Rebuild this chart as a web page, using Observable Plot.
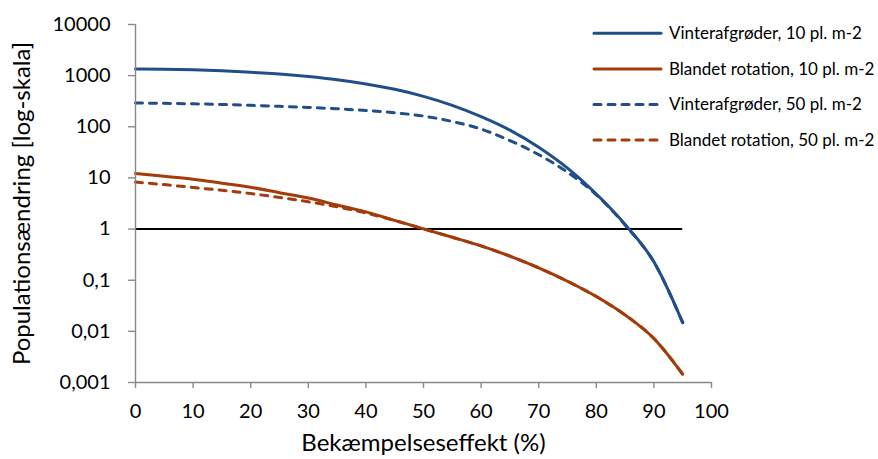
<!DOCTYPE html>
<html>
<head>
<meta charset="utf-8">
<script src="https://cdn.jsdelivr.net/npm/d3@7"></script>
<script src="https://cdn.jsdelivr.net/npm/@observablehq/plot@0.6"></script>
<style>
  body { margin: 0; background: #fff; }
  #chart { position: relative; width: 878px; height: 459px; font-family: Lato, sans-serif; }
  #chart svg.plot { position: absolute; left: 0; top: 0; }
  #legend { position: absolute; left: 0; top: 0; pointer-events: none; }
</style>
</head>
<body>
<div id="chart"></div>
<script>
// Control effect (%) on the x axis
const effect = [0, 5, 10, 15, 20, 25, 30, 35, 40, 45, 50, 55, 60, 65, 70, 75, 80, 85, 90, 95];

// Population change (log scale) for each scenario
const vinter10  = [1352, 1337, 1303, 1245, 1167, 1072, 959, 832, 689, 540, 394, 263, 158, 86.1, 39.8, 15.5, 4.84, 1.23, 0.229, 0.0148];
const blandet10 = [12.2, 10.74, 9.46, 7.87, 6.55, 5.14, 4.04, 2.96, 2.17, 1.48, 1.01, 0.692, 0.468, 0.295, 0.174, 0.0955, 0.0479, 0.0209, 0.00724, 0.00145];
const vinter50  = [292, 287, 281, 273, 263, 251, 239, 225, 208, 188, 162, 127, 90.2, 53.7, 28.5, 12.9, 4.68, 1.2, 0.226, 0.0148];
const blandet50 = [8.3, 7.4, 6.5, 5.74, 4.94, 4.16, 3.42, 2.72, 2.06, 1.47, 1.01, 0.692, 0.468, 0.295, 0.174, 0.0955, 0.0479, 0.0209, 0.00724, 0.00145];

const seriesNames = [
  "Vinterafgrøder, 10 pl. m-2",
  "Blandet rotation, 10 pl. m-2",
  "Vinterafgrøder, 50 pl. m-2",
  "Blandet rotation, 50 pl. m-2"
];
const seriesValues = [vinter10, blandet10, vinter50, blandet50];

// Break-even level (population unchanged)
const breakEven = 1;

// Axis ticks
const xTicks = [0, 10, 20, 30, 40, 50, 60, 70, 80, 90, 100];
const yTicks = [0.001, 0.01, 0.1, 1, 10, 100, 1000, 10000];
const yTickLabels = ["0,001", "0,01", "0,1", "1", "10", "100", "1000", "10000"];

const xLabel = "Bekæmpelseseffekt (%)";
const yLabel = "Populationsændring [log-skala]";

// Styling per series
const BLUE = "#1F4E89";
const BROWN = "#A33B0B";
const DASH = "7,7";
const styles = [
  { stroke: BLUE, dash: null },
  { stroke: BROWN, dash: null },
  { stroke: BLUE, dash: DASH },
  { stroke: BROWN, dash: DASH }
];
const AXIS_GREY = "#898989";

const rows = seriesNames.flatMap((name, i) =>
  effect.map((x, j) => ({ series: name, idx: i, x, y: seriesValues[i][j] }))
);

const lineMarks = seriesNames.map((name, i) =>
  Plot.line(rows.filter(d => d.idx === i), {
    x: "x", y: "y",
    stroke: styles[i].stroke,
    strokeWidth: 3,
    strokeDasharray: styles[i].dash,
    strokeLinecap: "round",
    curve: "monotone-x"
  })
);

const chart = Plot.plot({
  width: 878,
  height: 459,
  marginLeft: 135,
  marginRight: 167,
  marginTop: 24,
  marginBottom: 77,
  style: { fontFamily: "Lato, sans-serif", fontSize: "20px", color: "#000", background: "#fff" },
  x: { domain: [0, 100] },
  y: { type: "log", domain: [0.001, 10000] },
  marks: [
    Plot.ruleY([breakEven], { x1: effect[0], x2: effect[effect.length - 1], stroke: "#000", strokeWidth: 2 }),
    ...lineMarks,
    Plot.ruleX([0], { stroke: AXIS_GREY, strokeWidth: 1.4 }),
    Plot.ruleY([yTicks[0]], { stroke: AXIS_GREY, strokeWidth: 1.4 }),
    Plot.axisY({
      ticks: yTicks,
      tickFormat: d => yTickLabels[yTicks.indexOf(d)],
      tickSize: 7, tickPadding: 18,
      stroke: AXIS_GREY, strokeWidth: 1.4, fill: "#000",
      fontSize: 20, label: null
    }),
    Plot.axisX({
      ticks: xTicks,
      tickFormat: d => String(d),
      tickSize: 6, tickPadding: 15,
      stroke: AXIS_GREY, strokeWidth: 1.4, fill: "#000",
      fontSize: 20, label: null
    }),
    Plot.text([xLabel], { frameAnchor: "bottom", dy: 68, fontSize: 24, fill: "#000" }),
    Plot.text([yLabel], { frameAnchor: "left", textAnchor: "middle", dx: -113, rotate: -90, fontSize: 24, fill: "#000" })
  ]
});
chart.classList.add("plot");
const root = document.getElementById("chart");
root.appendChild(chart);

// Legend drawn over the upper right of the chart
const legend = d3.select(root).append("svg")
  .attr("id", "legend")
  .attr("width", 878).attr("height", 459);
const rowY = i => 33.3 + 35.6 * i;
const item = legend.selectAll("g").data(seriesNames).join("g")
  .attr("transform", (d, i) => `translate(0,${rowY(i)})`);
item.append("line")
  .attr("x1", 594).attr("x2", 661).attr("y1", 0).attr("y2", 0)
  .attr("stroke", (d, i) => styles[i].stroke)
  .attr("stroke-width", 3)
  .attr("stroke-linecap", "round")
  .attr("stroke-dasharray", (d, i) => styles[i].dash);
item.append("text")
  .attr("x", 669).attr("y", 0).attr("dy", "0.35em")
  .attr("font-family", "Lato, sans-serif").attr("font-size", 17)
  .attr("fill", "#000")
  .text(d => d);
</script>
</body>
</html>
